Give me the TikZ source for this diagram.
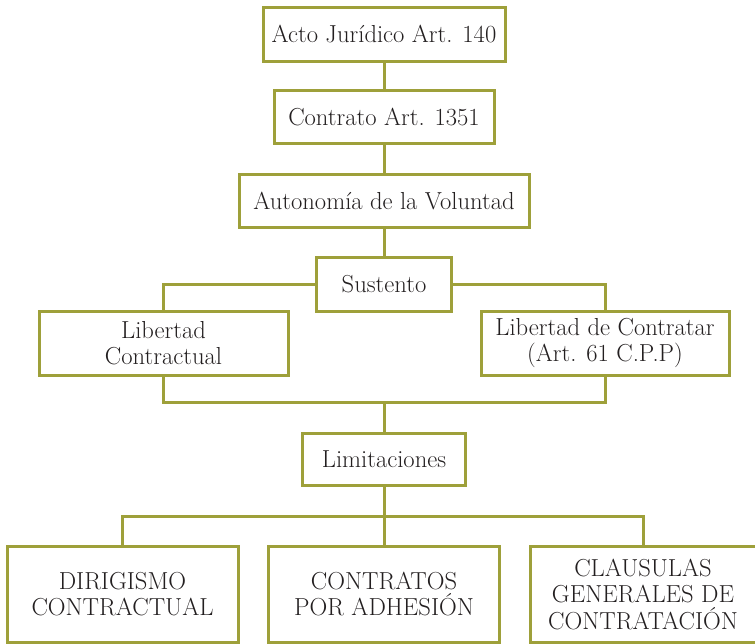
\documentclass[tikz,border=0pt]{standalone}
\usepackage{fontspec}
\usepackage{tikz}
\usetikzlibrary{positioning,calc}
\usepackage{xcolor}
\definecolor{oliva}{HTML}{9EA03A}
\definecolor{tinta}{HTML}{231F20}
\newcommand{\cuerpo}{\fontsize{24.6}{26.5}\selectfont}
\tikzset{
  caja/.style   = {draw=oliva, line width=3pt, rectangle, inner sep=0pt,
                   align=center, font=\cuerpo, text=tinta},
  enlace/.style = {draw=oliva, line width=3pt},
}

\begin{document}
\begin{tikzpicture}[x=1pt,y=1pt]
\useasboundingbox (0,0) rectangle (755,-643);
% ---- chain from the top ----
\node[caja,minimum width=242pt,minimum height=54pt] (acto) at (384,-34) {Acto Jurídico Art. 140};
\node[caja,minimum width=220pt,minimum height=53pt] (contrato) at (384,-116.5) {Contrato Art. 1351};
\node[caja,minimum width=290pt,minimum height=53pt] (autonomia) at (384,-200.5) {Autonomía de la Voluntad};
\node[caja,minimum width=135pt,minimum height=54pt] (sustento) at (384,-284) {Sustento};
\draw[enlace] (acto) -- (contrato);
\draw[enlace] (contrato) -- (autonomia);
\draw[enlace] (autonomia) -- (sustento);
% ---- the two freedoms ----
\node[caja,minimum width=249pt,minimum height=64pt] (libcon) at (163.5,-343) {Libertad\\Contractual};
\node[caja,minimum width=248pt,minimum height=64pt] (libcontratar) at (605,-343) {Libertad de Contratar\\(Art. 61 C.P.P)};
\draw[enlace] (sustento.west) -| (libcon.north);
\draw[enlace] (sustento.east) -| (libcontratar.north);
\coordinate (union) at (384,-402);
\draw[enlace] (libcon.south) |- (union) -| (libcontratar.south);
% ---- limits ----
\node[caja,minimum width=163pt,minimum height=52pt] (limit) at (384,-459) {Limitaciones};
\draw[enlace] (union) -- (limit);
\node[caja,minimum width=231pt,minimum height=96pt] (dirig) at (122.5,-594) {DIRIGISMO\\CONTRACTUAL};
\node[caja,minimum width=231pt,minimum height=96pt] (contratos) at (384,-594) {CONTRATOS\\POR ADHESIÓN};
\node[caja,minimum width=226pt,minimum height=96pt] (clausulas) at (643,-594) {CLAUSULAS\\GENERALES DE\\CONTRATACIÓN};
\coordinate (reparto) at (384,-516);
\draw[enlace] (limit) -- (reparto);
\draw[enlace] (dirig.north) |- (reparto) -| (clausulas.north);
\draw[enlace] (reparto) -- (contratos);
\end{tikzpicture}
\end{document}
